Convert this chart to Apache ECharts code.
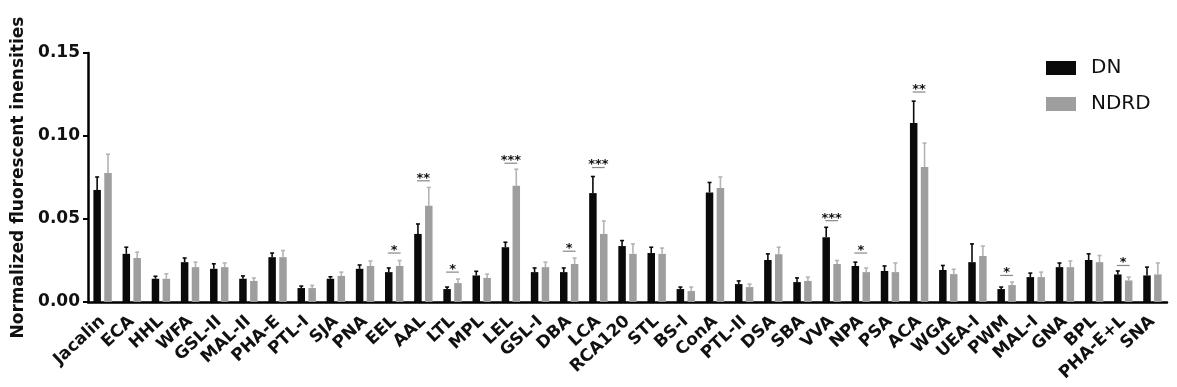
<!DOCTYPE html>
<html>
<head>
<meta charset="utf-8">
<script src="https://cdn.jsdelivr.net/npm/echarts@6/dist/echarts.min.js"></script>
<style>
html,body{margin:0;padding:0;background:#fff;}
#chart{width:1177px;height:387px;}
</style>
</head>
<body>
<div id="chart"></div>
<script>
const categories = ['Jacalin','ECA','HHL','WFA','GSL-II','MAL-II','PHA-E','PTL-I','SJA','PNA','EEL','AAL','LTL','MPL','LEL','GSL-I','DBA','LCA','RCA120','STL','BS-I','ConA','PTL-II','DSA','SBA','VVA','NPA','PSA','ACA','WGA','UEA-I','PWM','MAL-I','GNA','BPL','PHA-E+L','SNA'];
const dnValues = [0.0675,0.029,0.014,0.024,0.020,0.014,0.027,0.0084,0.014,0.020,0.018,0.041,0.0078,0.016,0.033,0.018,0.018,0.0656,0.0337,0.0295,0.0078,0.066,0.0108,0.0253,0.012,0.039,0.0217,0.0187,0.1078,0.0193,0.024,0.0078,0.015,0.021,0.0253,0.0166,0.016];
const dnSem = [0.0078,0.004,0.0015,0.0025,0.003,0.0017,0.0025,0.0012,0.0012,0.0023,0.0025,0.006,0.0012,0.0025,0.003,0.0025,0.0025,0.010,0.0033,0.0035,0.0012,0.006,0.0019,0.0037,0.0025,0.006,0.0023,0.003,0.0132,0.0027,0.011,0.0012,0.0024,0.0025,0.0037,0.0021,0.005];
const ndrdValues = [0.0777,0.0265,0.014,0.021,0.021,0.0127,0.027,0.0084,0.0157,0.0217,0.0217,0.058,0.0114,0.0145,0.070,0.021,0.0229,0.041,0.029,0.029,0.0066,0.0686,0.009,0.0288,0.0127,0.0229,0.018,0.018,0.0813,0.0168,0.0277,0.0102,0.015,0.021,0.024,0.013,0.0166];
const ndrdSem = [0.0113,0.0035,0.003,0.003,0.0025,0.0018,0.004,0.0016,0.0023,0.003,0.0033,0.011,0.0024,0.0023,0.010,0.003,0.0036,0.0078,0.006,0.0035,0.0024,0.0067,0.0018,0.0042,0.0023,0.0021,0.0025,0.0055,0.0144,0.0029,0.006,0.0018,0.003,0.0037,0.004,0.002,0.0069];
const sigCategories = ['EEL','AAL','LTL','LEL','DBA','LCA','VVA','NPA','ACA','PWM','PHA-E+L'];
const sigLabels = ['*','**','*','***','*','***','***','*','**','*','*'];
const sigLevels = [0.0295,0.073,0.018,0.0836,0.0306,0.081,0.049,0.0295,0.1265,0.016,0.022];
const yTicks = {min:0, max:0.15, interval:0.05};

const BAR_W = 7.5, BAR_GAP = 0.45;
const OFFSET = BAR_W*(1+BAR_GAP)/2;
const FONT = '"DejaVu Sans", "Liberation Sans", sans-serif';

function errData(vals, sems){ return vals.map((v,i)=>[i, v, v+sems[i]]); }
function errRender(off, color){
  return function(params, api){
    const b = api.coord([api.value(0), api.value(1)]);
    const t = api.coord([api.value(0), api.value(2)]);
    const x = b[0] + off;
    return {type:'group', children:[
      {type:'line', shape:{x1:x,y1:b[1],x2:x,y2:t[1]}, style:{stroke:color, lineWidth:1.6}},
      {type:'line', shape:{x1:x-2,y1:t[1],x2:x+2,y2:t[1]}, style:{stroke:color, lineWidth:1.6}}
    ]};
  };
}
const sigData = sigCategories.map((c,i)=>[categories.indexOf(c), sigLevels[i], sigLabels[i]]);

const chart = echarts.init(document.getElementById('chart'));
chart.setOption({
  animation:false,
  textStyle:{fontFamily:FONT},
  grid:{left:88, right:10, top:53, bottom:85},
  legend:{
    data:['DN','NDRD'], orient:'vertical', left:1046, top:58, icon:'rect', padding:0,
    itemWidth:30, itemHeight:14, itemGap:16,
    textStyle:{fontSize:20, color:'#111', fontFamily:FONT, padding:[0,0,0,10]}
  },
  xAxis:{
    type:'category', data:categories,
    axisLine:{lineStyle:{color:'#000', width:2.5}},
    axisTick:{alignWithLabel:true, length:6, lineStyle:{color:'#000', width:2}},
    axisLabel:{rotate:43, interval:0, margin:17, fontSize:17, fontWeight:'bold', color:'#111', fontFamily:FONT}
  },
  yAxis:{
    type:'value', min:yTicks.min, max:yTicks.max, interval:yTicks.interval,
    name:'Normalized fluorescent inensities', nameLocation:'middle', nameGap:59,
    nameTextStyle:{fontSize:17, fontWeight:'bold', color:'#111', fontFamily:FONT},
    splitLine:{show:false},
    axisLine:{show:true, lineStyle:{color:'#000', width:2.5}},
    axisTick:{show:true, length:5, lineStyle:{color:'#000', width:2}},
    axisLabel:{formatter:v=>v.toFixed(2), margin:8, fontSize:17, fontWeight:'bold', color:'#111', fontFamily:FONT}
  },
  series:[
    {name:'DN', type:'bar', data:dnValues, barWidth:BAR_W, barGap:(BAR_GAP*100)+'%', itemStyle:{color:'#0a0a0a'}},
    {name:'NDRD', type:'bar', data:ndrdValues, barWidth:BAR_W, itemStyle:{color:'#9e9e9e'}},
    {name:'DN err', type:'custom', data:errData(dnValues, dnSem), renderItem:errRender(-OFFSET,'#0a0a0a'), z:3},
    {name:'NDRD err', type:'custom', data:errData(ndrdValues, ndrdSem), renderItem:errRender(OFFSET,'#b4b4b4'), z:3},
    {name:'sig', type:'custom', data:sigData, z:4,
      renderItem:function(params, api){
        const p = api.coord([api.value(0), api.value(1)]);
        const w = api.size([1,0])[0]*0.22;
        return {type:'group', children:[
          {type:'line', shape:{x1:p[0]-w,y1:p[1],x2:p[0]+w,y2:p[1]}, style:{stroke:'#888', lineWidth:1.2}},
          {type:'text', style:{text:api.value(2), x:p[0], y:p[1]+4, textAlign:'center', textVerticalAlign:'bottom', fill:'#111', fontSize:13, fontWeight:'bold', fontFamily:FONT}}
        ]};
      }
    }
  ]
});
</script>
</body>
</html>
